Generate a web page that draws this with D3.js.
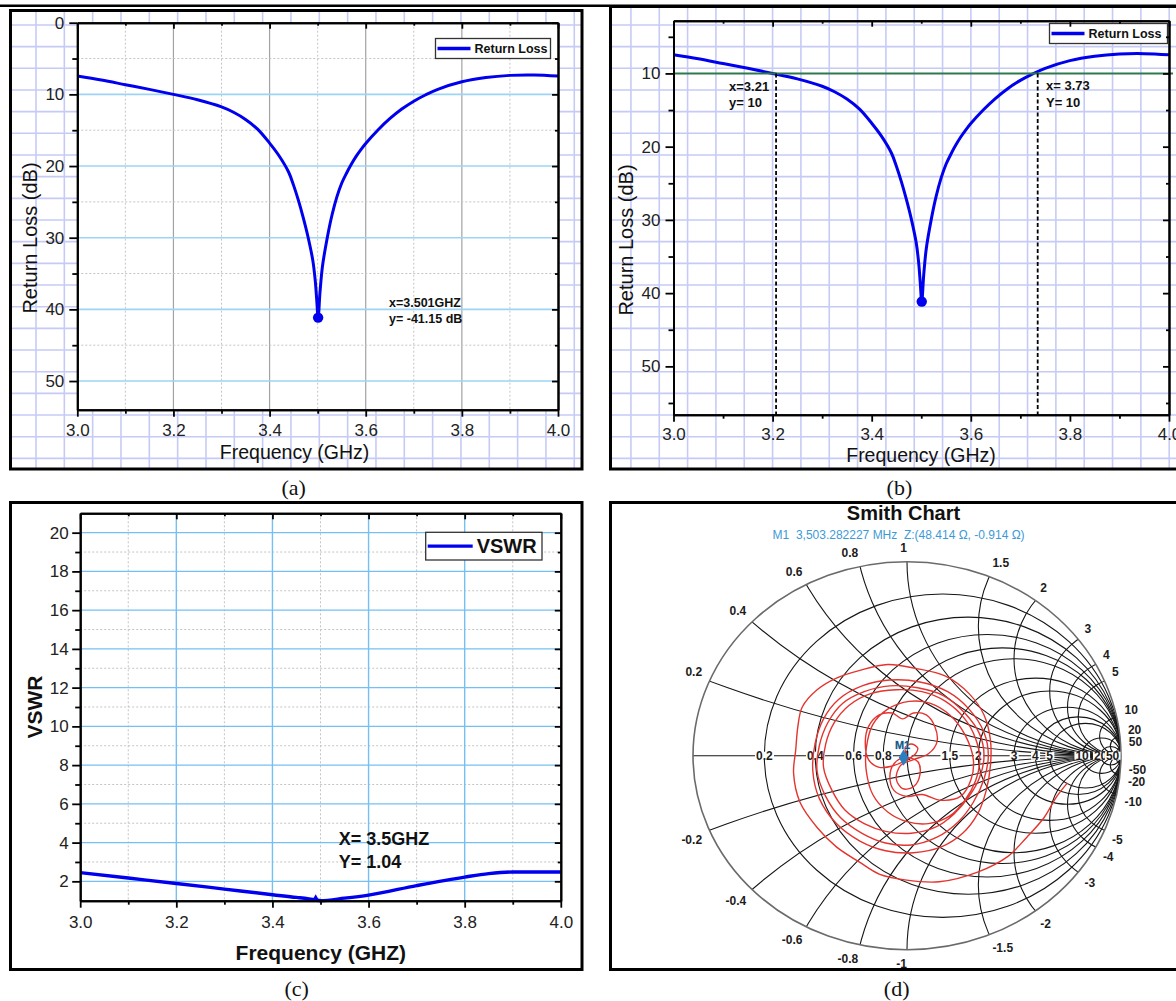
<!DOCTYPE html>
<html>
<head>
<meta charset="utf-8">
<script src="https://cdn.jsdelivr.net/npm/d3@7"></script>
<style>
  body { margin: 0; background: #fff; }
  svg { display: block; }
</style>
</head>
<body>
<svg id="fig" width="1176" height="1001"></svg>
<script>
// return loss sweep, panels (a) and (b)
const rlFreq = [3.00, 3.05, 3.10, 3.15, 3.20, 3.25, 3.30, 3.325, 3.35, 3.375, 3.40, 3.42, 3.44, 3.45, 3.46, 3.47, 3.48, 3.49, 3.495, 3.498, 3.501,
  3.505, 3.51, 3.52, 3.53, 3.54, 3.55, 3.56, 3.57, 3.58, 3.59, 3.60, 3.625, 3.65, 3.675, 3.70, 3.725, 3.75, 3.80, 3.85, 3.90, 3.95, 4.00]
const rlValue = [7.45, 8.0, 8.65, 9.3, 10.0, 10.75, 11.75, 12.5, 13.5, 14.85, 16.8, 18.6, 20.9, 22.7, 24.8, 27.2, 29.9, 33.2, 36.0, 38.6, 41.15,
  37.5, 34.0, 30.0, 26.8, 24.3, 22.4, 21.0, 19.75, 18.65, 17.7, 16.85, 15.0, 13.4, 12.05, 10.95, 10.05, 9.3, 8.25, 7.65, 7.35, 7.3, 7.45]
const rlMin = [3.501, 41.15]
const bandFreq = [3.207, 3.735]
const bandLevel = 10

// VSWR sweep, panel (c)
const vswrFreq = [3.0, 3.1, 3.2, 3.3, 3.4, 3.45, 3.49, 3.5, 3.55, 3.6, 3.7, 3.8, 3.85, 3.9, 4.0]
const vswrValue = [2.45, 2.17, 1.89, 1.6, 1.31, 1.17, 1.04, 1.0, 1.13, 1.29, 1.78, 2.22, 2.4, 2.48, 2.48]
const vswrMin = [3.49, 1.04]

// Smith chart trace (reflection coefficient, real / imaginary), panel (d)
const smithRe = [0.75, 0.70, 0.64, 0.56, 0.47, 0.33, 0.15, -0.01, -0.13, -0.22, -0.33, -0.42, -0.50, -0.53, -0.52, -0.51, -0.49, -0.42, -0.33, -0.22, -0.09, 0.04, 0.18, 0.29, 0.36, 0.39, 0.39, 0.37, 0.33,
  0.26, 0.16, 0.03, -0.10, -0.22, -0.33, -0.41, -0.44, -0.43, -0.39, -0.32, -0.21, -0.08, 0.06, 0.19, 0.29, 0.36, 0.38, 0.36, 0.31,
  0.24, 0.14, 0.02, -0.10, -0.21, -0.31, -0.38, -0.42, -0.41, -0.37, -0.30, -0.20, -0.08, 0.05, 0.17, 0.27, 0.34, 0.36, 0.34, 0.29,
  0.22, 0.13, 0.02, -0.10, -0.20, -0.29, -0.35, -0.39, -0.38, -0.34, -0.27, -0.17, -0.05, 0.07, 0.18, 0.27, 0.32, 0.34, 0.32, 0.27,
  0.20, 0.10, 0.00, -0.09, -0.16, -0.19, -0.19, -0.16, -0.09, 0.01, 0.11, 0.20, 0.27, 0.31, 0.30, 0.25,
  0.16, 0.07, 0.00, -0.06, -0.08, -0.06, -0.01, 0.05, 0.06, 0.03, -0.02, -0.05, -0.03, 0.03,
  0.10, 0.14, 0.13, 0.09, 0.03, -0.02, -0.07, -0.13, -0.18, -0.195, -0.18, -0.13, -0.06,
  0.00, 0.04, 0.05, 0.02, -0.01, 0.00]
const smithIm = [-0.14, -0.21, -0.32, -0.42, -0.52, -0.60, -0.65, -0.64, -0.61, -0.55, -0.47, -0.37, -0.24, -0.09, 0.03, 0.15, 0.25, 0.34, 0.40, 0.44, 0.47, 0.45, 0.41, 0.32, 0.21, 0.08, -0.05, -0.18, -0.30,
  -0.40, -0.47, -0.50, -0.49, -0.44, -0.35, -0.22, -0.08, 0.06, 0.19, 0.29, 0.36, 0.39, 0.38, 0.33, 0.24, 0.12, 0.00, -0.12, -0.24,
  -0.34, -0.42, -0.46, -0.45, -0.40, -0.32, -0.21, -0.08, 0.05, 0.17, 0.27, 0.33, 0.36, 0.35, 0.31, 0.22, 0.11, 0.00, -0.11, -0.21,
  -0.30, -0.37, -0.40, -0.39, -0.35, -0.28, -0.18, -0.06, 0.06, 0.17, 0.26, 0.32, 0.34, 0.33, 0.28, 0.19, 0.09, -0.02, -0.13, -0.23,
  -0.31, -0.35, -0.34, -0.29, -0.20, -0.08, 0.04, 0.16, 0.24, 0.28, 0.27, 0.21, 0.11, -0.02, -0.12, -0.21,
  -0.23, -0.20, -0.21, -0.18, -0.11, -0.04, -0.01, -0.03, -0.10, -0.16, -0.17, -0.12, -0.05, -0.02,
  0.01, 0.07, 0.15, 0.21, 0.22, 0.19, 0.22, 0.21, 0.15, 0.07, -0.02, -0.06, -0.05,
  -0.02, 0.01, 0.04, 0.06, 0.04, 0.01]
const rCircles = [0.2, 0.4, 0.6, 0.8, 1, 1.5, 2, 3, 4, 5, 10, 20, 50]
const xArcs = [0.2, 0.4, 0.6, 0.8, 1, 1.5, 2, 3, 4, 5, 10, 20, 50]
const m1Z = [48.414, -0.914]
const z0 = 50

const xTicks = [3.0, 3.2, 3.4, 3.6, 3.8, 4.0]
const xMinor = [3.1, 3.3, 3.5, 3.7, 3.9]
const xGrid = [3.2, 3.4, 3.6, 3.8]

const svg = d3.select('#fig')
const font = 'Liberation Sans, Arial, Helvetica, sans-serif'
const serif = 'Liberation Serif, Times New Roman, serif'
const lineBlue = '#0000ee'

// top rule of the page
svg.append('line').attr('x1', 0).attr('x2', 1176).attr('y1', 5.8).attr('y2', 5.8)
  .attr('stroke', '#000').attr('stroke-width', 2.4)

// lavender graph-paper behind (a) and (b)
function paper(x0, y0, x1, y1) {
  const g = svg.append('g').attr('stroke', '#c6cbf6').attr('stroke-width', 1.6)
  g.selectAll('line.v').data(d3.range(7.67, x1, 28.33).filter(v => v > x0)).join('line').attr('class', 'v')
    .attr('x1', d => d).attr('x2', d => d).attr('y1', y0).attr('y2', y1)
  g.selectAll('line.h').data(d3.range(3.3, y1, 21.67).filter(v => v > y0)).join('line').attr('class', 'h')
    .attr('x1', x0).attr('x2', x1).attr('y1', d => d).attr('y2', d => d)
}
paper(11, 11, 581, 468)
paper(611, 7, 1176, 468)

function drawAxes(x, y, box, yMajor, yMinor, padY, padX) {
  const g = svg.append('g')
  const add = (axis, tx, ty) => g.append('g').attr('transform', `translate(${tx},${ty})`).call(axis.tickSizeOuter(0))
  const none = () => ''
  add(d3.axisBottom(x).tickValues(xMinor).tickSize(4).tickFormat(none), 0, box.bottom)
  add(d3.axisBottom(x).tickValues(xTicks).tickSize(7).tickPadding(padX).tickFormat(d3.format('.1f')), 0, box.bottom)
  add(d3.axisBottom(x).tickValues(xMinor).tickSize(3).tickFormat(none), 0, box.top)
  add(d3.axisBottom(x).tickValues(xTicks).tickSize(6).tickFormat(none), 0, box.top)
  add(d3.axisLeft(y).tickValues(yMinor).tickSize(5).tickFormat(none), box.left, 0)
  add(d3.axisLeft(y).tickValues(yMajor).tickSize(8).tickPadding(padY).tickFormat(d3.format('d')), box.left, 0)
  add(d3.axisLeft(y).tickValues(yMinor).tickSize(3).tickFormat(none), box.right, 0)
  add(d3.axisLeft(y).tickValues(yMajor).tickSize(6).tickFormat(none), box.right, 0)
  g.selectAll('.domain').attr('stroke', '#000').attr('stroke-width', 2)
  g.selectAll('.tick line').attr('stroke', '#000').attr('stroke-width', 1.8)
  g.selectAll('.tick text').attr('font-family', font).attr('font-size', 17).attr('fill', '#222')
}

function vLines(x, vals, y0, y1, color, width, dash) {
  svg.append('g').selectAll('line').data(vals).join('line')
    .attr('x1', d => x(d)).attr('x2', d => x(d)).attr('y1', y0).attr('y2', y1)
    .attr('stroke', color).attr('stroke-width', width).attr('stroke-dasharray', dash)
}
function hLines(y, vals, x0, x1, color, width, dash) {
  svg.append('g').selectAll('line').data(vals).join('line')
    .attr('x1', x0).attr('x2', x1).attr('y1', d => y(d)).attr('y2', d => y(d))
    .attr('stroke', color).attr('stroke-width', width).attr('stroke-dasharray', dash)
}

function legend(x0, y0, w, h, label, size, lineLen) {
  svg.append('rect').attr('x', x0).attr('y', y0).attr('width', w).attr('height', h)
    .attr('fill', '#fff').attr('stroke', '#333').attr('stroke-width', 1.3)
  svg.append('line').attr('x1', x0 + 2).attr('x2', x0 + 2 + lineLen).attr('y1', y0 + h / 2).attr('y2', y0 + h / 2)
    .attr('stroke', lineBlue).attr('stroke-width', 3.4)
  svg.append('text').attr('x', x0 + lineLen + 6).attr('y', y0 + h / 2).attr('dy', '0.36em')
    .attr('font-family', font).attr('font-weight', 'bold').attr('font-size', size).attr('fill', '#111')
    .text(label)
}

function text(x, y, str, size, opts = {}) {
  const t = svg.append('text').attr('x', x).attr('y', y).attr('font-family', opts.family || font)
    .attr('font-size', size).attr('fill', opts.fill || '#111').text(str)
  if (opts.bold) t.attr('font-weight', 'bold')
  if (opts.anchor) t.attr('text-anchor', opts.anchor)
  if (opts.rotate) t.attr('transform', `rotate(-90,${x},${y})`)
  return t
}

const rlPoints = rlFreq.map((f, i) => [f, rlValue[i]])
const smooth = d3.curveCatmullRom.alpha(0.5)

// ---------- (a) ----------
const ax = d3.scaleLinear().domain([3, 4]).range([77.3, 558])
const ay = d3.scaleLinear().domain([0, 54]).range([22.7, 409.7])
const aBox = { left: 77.3, right: 558, top: 22.7, bottom: 409.7 }

svg.append('rect').attr('x', aBox.left).attr('y', aBox.top)
  .attr('width', aBox.right - aBox.left).attr('height', aBox.bottom - aBox.top).attr('fill', '#fff')
vLines(ax, xMinor, aBox.top, aBox.bottom, '#c4c4c4', 1, '2,2')
vLines(ax, xGrid, aBox.top, aBox.bottom, '#a3a3a3', 1.2)
hLines(ay, [5, 15, 25, 35, 45], aBox.left, aBox.right, '#c4c4c4', 1, '2,2')
hLines(ay, [10, 20, 30, 40, 50], aBox.left, aBox.right, '#9dd3f4', 1.6)

svg.append('path').datum(rlPoints)
  .attr('d', d3.line().x(d => ax(d[0])).y(d => ay(d[1])).curve(smooth))
  .attr('fill', 'none').attr('stroke', lineBlue).attr('stroke-width', 3)
svg.append('circle').attr('cx', ax(rlMin[0])).attr('cy', ay(rlMin[1])).attr('r', 5.2).attr('fill', lineBlue)

legend(435.5, 38.5, 115, 20, 'Return Loss', 12.5, 33)
text(389, 306.5, 'x=3.501GHZ', 12.5, { bold: true })
text(389, 322.5, 'y= -41.15 dB', 12.5, { bold: true })
drawAxes(ax, ay, aBox, [0, 10, 20, 30, 40, 50], [5, 15, 25, 35, 45], 5, 7)
text(37, 238, 'Return Loss (dB)', 20, { anchor: 'middle', rotate: true })
text(294.6, 459, 'Frequency (GHz)', 19.5, { anchor: 'middle' })

// ---------- (b) ----------
const bx = d3.scaleLinear().domain([3, 4]).range([673.5, 1169])
const by = d3.scaleLinear().domain([2.8, 56.6]).range([20.7, 414.7])
const bBox = { left: 673.5, right: 1169, top: 20.7, bottom: 414.7 }

svg.append('path').datum(rlPoints)
  .attr('d', d3.line().x(d => bx(d[0])).y(d => by(d[1])).curve(smooth))
  .attr('fill', 'none').attr('stroke', lineBlue).attr('stroke-width', 3)
svg.append('circle').attr('cx', bx(rlMin[0])).attr('cy', by(rlMin[1])).attr('r', 5.2).attr('fill', lineBlue)

svg.append('line').attr('x1', bBox.left).attr('x2', bBox.right + 4).attr('y1', by(bandLevel)).attr('y2', by(bandLevel))
  .attr('stroke', '#2e7a4e').attr('stroke-width', 2)
vLines(bx, bandFreq, by(bandLevel), bBox.bottom, '#000', 1.8, '4,2.5')

legend(1049.5, 23.5, 118, 20, 'Return Loss', 12.5, 33)
text(729, 90.5, 'x=3.21', 13, { bold: true })
text(729, 107, 'y= 10', 13, { bold: true })
text(1046, 90, 'x= 3.73', 13, { bold: true })
text(1046, 106.5, 'Y= 10', 13, { bold: true })
drawAxes(bx, by, bBox, [10, 20, 30, 40, 50], [5, 15, 25, 35, 45, 55], 5, 6.5)
text(633, 240, 'Return Loss (dB)', 20, { anchor: 'middle', rotate: true })
text(921, 461.5, 'Frequency (GHz)', 19.5, { anchor: 'middle' })

// ---------- (c) ----------
const cx = d3.scaleLinear().domain([3, 4]).range([80.2, 560.8])
const cy = d3.scaleLinear().domain([1, 21]).range([900.7, 513.3])
const cBox = { left: 80.2, right: 560.8, top: 513.3, bottom: 900.7 }
const cMajor = [2, 4, 6, 8, 10, 12, 14, 16, 18, 20]
const cMinor = [3, 5, 7, 9, 11, 13, 15, 17, 19]

vLines(cx, xMinor, cBox.top, cBox.bottom, '#c4c4c4', 1, '2,2')
hLines(cy, cMinor, cBox.left, cBox.right, '#c4c4c4', 1, '2,2')
vLines(cx, xGrid, cBox.top, cBox.bottom, '#76bff2', 1.4)
hLines(cy, cMajor, cBox.left, cBox.right, '#76bff2', 1.4)

svg.append('path').datum(vswrFreq.map((f, i) => [f, vswrValue[i]]))
  .attr('d', d3.line().x(d => cx(d[0])).y(d => cy(d[1])).curve(d3.curveMonotoneX))
  .attr('fill', 'none').attr('stroke', lineBlue).attr('stroke-width', 3.4)
svg.append('path').attr('d', d3.symbol(d3.symbolTriangle, 28)())
  .attr('transform', `translate(${cx(vswrMin[0])},${cy(vswrMin[1]) - 1})`).attr('fill', lineBlue)

legend(425.7, 532.3, 116.3, 27.7, 'VSWR', 20, 45)
text(338.7, 845, 'X= 3.5GHZ', 18, { bold: true })
text(338.7, 868, 'Y= 1.04', 18, { bold: true })
drawAxes(cx, cy, cBox, cMajor, cMinor, 3.5, 8)
text(41.5, 707, 'VSWR', 21, { bold: true, anchor: 'middle', rotate: true })
text(320.8, 960, 'Frequency (GHZ)', 21, { bold: true, anchor: 'middle' })

// ---------- (d) Smith chart ----------
const sx = d3.scaleLinear().domain([-1, 1]).range([693, 1121])
const sy = d3.scaleLinear().domain([-1, 1]).range([949.7, 561.7])
const rx = (sx(1) - sx(-1)) / 2
const ry = (sy(-1) - sy(1)) / 2
const smith = svg.append('g')

smith.append('clipPath').attr('id', 'unitCircle')
  .append('ellipse').attr('cx', sx(0)).attr('cy', sy(0)).attr('rx', rx).attr('ry', ry)

const grid = smith.append('g').attr('clip-path', 'url(#unitCircle)')
  .attr('fill', 'none').attr('stroke', '#161616').attr('stroke-width', 1.1)
grid.selectAll('ellipse.r').data(rCircles).join('ellipse').attr('class', 'r')
  .attr('cx', r => sx(r / (1 + r))).attr('cy', sy(0))
  .attr('rx', r => rx / (1 + r)).attr('ry', r => ry / (1 + r))
const xAll = xArcs.concat(xArcs.map(v => -v))
grid.selectAll('ellipse.x').data(xAll).join('ellipse').attr('class', 'x')
  .attr('cx', sx(1)).attr('cy', v => sy(1 / v))
  .attr('rx', v => rx / Math.abs(v)).attr('ry', v => ry / Math.abs(v))

smith.append('line').attr('x1', sx(-1)).attr('x2', sx(1)).attr('y1', sy(0)).attr('y2', sy(0))
  .attr('stroke', '#161616').attr('stroke-width', 1.1)
smith.append('ellipse').attr('cx', sx(0)).attr('cy', sy(0)).attr('rx', rx).attr('ry', ry)
  .attr('fill', 'none').attr('stroke', '#6a6a6a').attr('stroke-width', 1.6)

// resistance labels on the real axis
const axisLab = smith.append('g').attr('font-family', font).attr('font-weight', 'bold')
  .attr('font-size', 12).attr('fill', '#1c1c1c')
rCircles.forEach(r => {
  const t = axisLab.append('text').attr('x', sx((r - 1) / (r + 1))).attr('y', sy(0)).attr('dy', '0.36em')
    .attr('text-anchor', 'middle').text(r)
  const b = t.node().getBBox()
  axisLab.insert('rect', () => t.node()).attr('x', b.x - 1).attr('y', sy(0) - 4)
    .attr('width', b.width + 2).attr('height', 8).attr('fill', '#fff')
})

// reactance labels round the rim
const rim = smith.append('g').attr('font-family', font).attr('font-weight', 'bold')
  .attr('font-size', 12).attr('fill', '#1c1c1c')
xAll.forEach(v => {
  const gr = (v * v - 1) / (v * v + 1)
  const gi = 2 * v / (v * v + 1)
  rim.append('text')
    .attr('x', sx(0) + (rx + 8) * gr)
    .attr('y', sy(0) - (ry + 8) * gi)
    .attr('dy', v > 0 ? '-0.15em' : '0.85em')
    .attr('text-anchor', gr <= 0 ? 'end' : 'start')
    .text(v)
})

smith.append('path').datum(smithRe.map((v, i) => [v, smithIm[i]]))
  .attr('d', d3.line().x(d => sx(d[0])).y(d => sy(d[1])).curve(smooth))
  .attr('fill', 'none').attr('stroke', '#e3342f').attr('stroke-width', 1.4)

// marker M1 from its impedance
const zn = [m1Z[0] / z0, m1Z[1] / z0]
const den = (zn[0] + 1) ** 2 + zn[1] ** 2
const m1 = [(zn[0] ** 2 + zn[1] ** 2 - 1) / den, 2 * zn[1] / den]
smith.append('path').attr('d', d3.symbol(d3.symbolDiamond, 80)())
  .attr('transform', `translate(${sx(m1[0])},${sy(m1[1])})`).attr('fill', '#2a7fc1')
smith.append('text').attr('x', sx(m1[0]) - 1).attr('y', sy(m1[1]) - 9)
  .attr('text-anchor', 'middle').attr('font-family', font).attr('font-weight', 'bold').attr('font-size', 11)
  .attr('fill', '#17557f').attr('stroke', '#9fd0f0').attr('stroke-width', 0.6).attr('paint-order', 'stroke')
  .text('M1')

text(903.5, 519.5, 'Smith Chart', 20, { bold: true, anchor: 'middle' })
text(898.6, 539, 'M1  3,503.282227 MHz  Z:(48.414 Ω, -0.914 Ω)', 12, { anchor: 'middle', fill: '#3d9ad6' })
  .style('white-space', 'pre')

// ---------- frames and captions ----------
const frames = [[10.5, 10.5, 571.5, 458.5], [610.5, 6.5, 700, 462.5], [10.5, 502.5, 571.5, 467], [610.5, 502.5, 700, 467]]
svg.append('g').selectAll('rect').data(frames).join('rect')
  .attr('x', d => d[0]).attr('y', d => d[1]).attr('width', d => d[2]).attr('height', d => d[3])
  .attr('fill', 'none').attr('stroke', '#000').attr('stroke-width', 3)

text(293.6, 495, '(a)', 22, { family: serif, anchor: 'middle' })
text(899.4, 495, '(b)', 22, { family: serif, anchor: 'middle' })
text(296.6, 996, '(c)', 22, { family: serif, anchor: 'middle' })
text(896.7, 996, '(d)', 22, { family: serif, anchor: 'middle' })
</script>
</body>
</html>
